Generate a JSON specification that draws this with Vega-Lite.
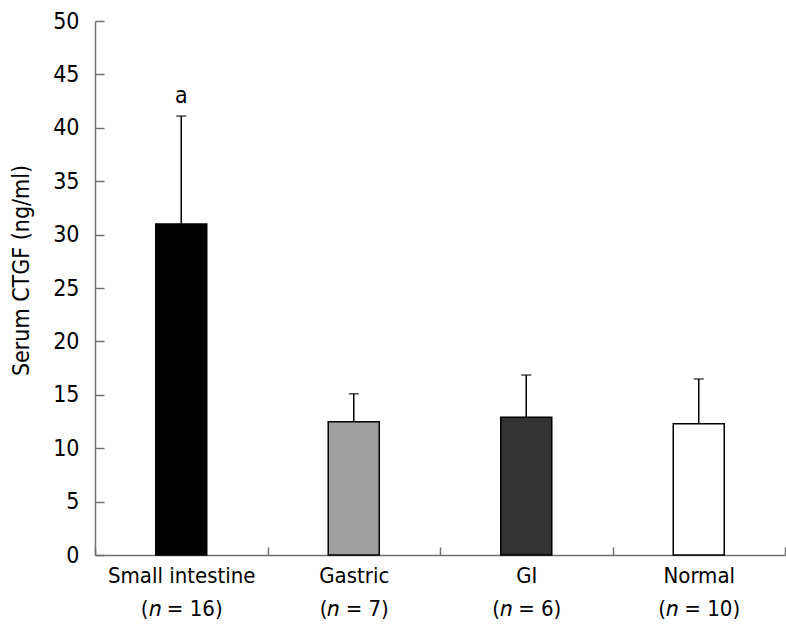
{
  "$schema": "https://vega.github.io/schema/vega-lite/v6.json",
  "width": 690,
  "height": 534,
  "autosize": {"type": "none"},
  "padding": {"left": 95, "top": 21, "right": 1, "bottom": 87},
  "background": "white",
  "config": {
    "view": {"stroke": null},
    "font": "DejaVu Sans Condensed",
    "axis": {
      "labelFont": "DejaVu Sans Condensed",
      "titleFont": "DejaVu Sans Condensed",
      "labelColor": "black",
      "titleColor": "black",
      "domainColor": "#707070",
      "tickColor": "#707070",
      "domainWidth": 1.5,
      "tickWidth": 1.5,
      "grid": false
    }
  },
  "data": {
    "values": [
      {"group": "Small intestine", "n": "16", "mean": 31.0, "upper": 41.1, "note": "a"},
      {"group": "Gastric", "n": "7", "mean": 12.48, "upper": 15.1, "note": ""},
      {"group": "GI", "n": "6", "mean": 12.9, "upper": 16.85, "note": ""},
      {"group": "Normal", "n": "10", "mean": 12.3, "upper": 16.48, "note": ""}
    ]
  },
  "encoding": {
    "x": {
      "field": "group",
      "type": "nominal",
      "sort": null,
      "scale": {"paddingInner": 0, "paddingOuter": 0},
      "axis": {
        "title": null,
        "labelAngle": 0,
        "labelFontSize": 22,
        "labelPadding": 18,
        "tickBand": "extent",
        "tickSize": -8,
        "labelLineHeight": 33,
        "labelExpr": "datum.label == 'Small intestine' ? [datum.label, '(\ud835\udc5b = 16)'] : datum.label == 'Gastric' ? [datum.label, '(\ud835\udc5b = 7)'] : datum.label == 'GI' ? [datum.label, '(\ud835\udc5b = 6)'] : datum.label == 'Normal' ? [datum.label, '(\ud835\udc5b = 10)'] : ''"
      }
    }
  },
  "layer": [
    {
      "mark": {"type": "bar", "size": 51, "stroke": "black", "strokeWidth": 1.5},
      "encoding": {
        "y": {
          "field": "mean",
          "type": "quantitative",
          "scale": {"domain": [0, 50], "nice": false},
          "axis": {
            "title": "Serum CTGF (ng/ml)",
            "titleFontSize": 23,
            "titleFontWeight": "normal",
            "titleX": -62,
            "titleY": 249,
            "values": [0, 5, 10, 15, 20, 25, 30, 35, 40, 45, 50],
            "labelFontSize": 23,
            "tickSize": -9,
            "labelPadding": 25
          }
        },
        "color": {
          "field": "group",
          "type": "nominal",
          "sort": null,
          "scale": {"domain": ["Small intestine", "Gastric", "GI", "Normal"], "range": ["#000000", "#a0a0a0", "#333333", "#ffffff"]},
          "legend": null
        }
      }
    },
    {
      "mark": {"type": "rule", "color": "black", "strokeWidth": 1.5},
      "encoding": {
        "y": {"field": "mean", "type": "quantitative"},
        "y2": {"field": "upper"}
      }
    },
    {
      "mark": {"type": "tick", "orient": "horizontal", "size": 10, "thickness": 1.5, "color": "black"},
      "encoding": {
        "y": {"field": "upper", "type": "quantitative"}
      }
    },
    {
      "mark": {"type": "text", "fontSize": 23, "baseline": "alphabetic", "dy": -13, "color": "black"},
      "encoding": {
        "y": {"field": "upper", "type": "quantitative"},
        "text": {"field": "note"}
      }
    }
  ]
}
